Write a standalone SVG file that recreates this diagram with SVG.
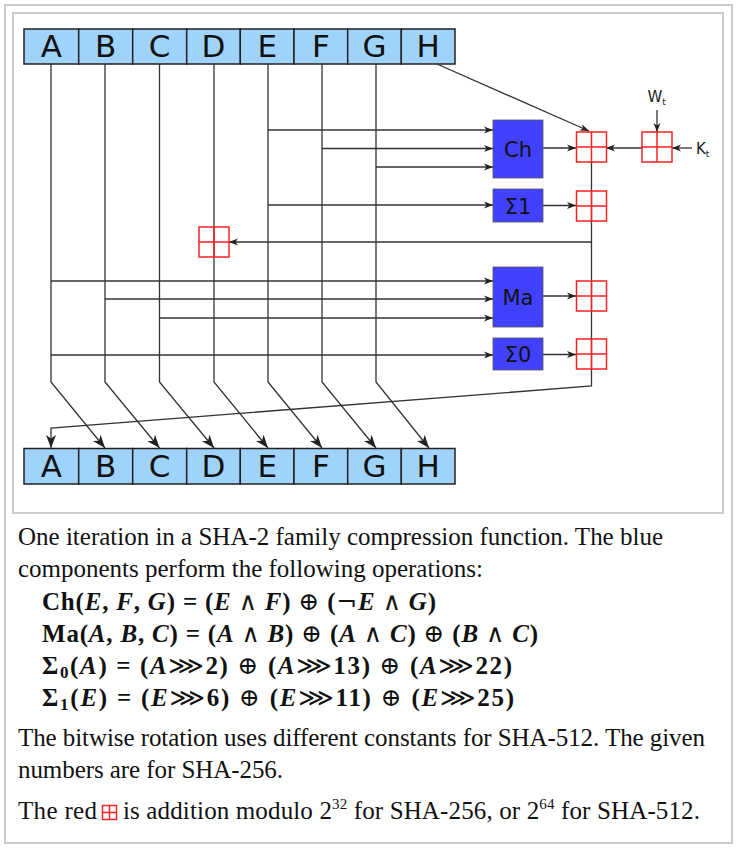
<svg xmlns="http://www.w3.org/2000/svg" width="743" height="856" viewBox="0 0 743 856">
<style>
.frame{fill:#fff;stroke:#c8ccd1;stroke-width:2}
.cell{fill:#a0d3fa;stroke:#222;stroke-width:1.5}
.reg{font-family:"DejaVu Sans",sans-serif;font-size:31px;fill:#111;text-anchor:middle}
.op{fill:#4141ff;stroke:#555;stroke-width:0.8}
.opt{font-family:"DejaVu Sans",sans-serif;font-size:21px;fill:#111;text-anchor:middle}
.add{fill:none;stroke:#ff2020;stroke-width:1.5}
.lbl{font-family:"DejaVu Sans",sans-serif;font-size:15px;fill:#222}
.sub{font-size:9px}
.ln{fill:none;stroke:#333;stroke-width:1.3}
.ar{marker-end:url(#ah)}
.arb{marker-end:url(#ahb)}
.cap{font-family:"Liberation Serif","Times New Roman",serif;font-size:25px;fill:#111}
.math{font-family:"Liberation Serif","DejaVu Serif",serif;font-size:25px;font-weight:bold;fill:#111}
.v{font-style:italic}
.o{font-weight:normal;font-family:"DejaVu Serif","DejaVu Sans",serif}
</style>
<defs>
<marker id="ah" viewBox="-10 -5 10 10" refX="0" refY="0" markerWidth="10" markerHeight="10" markerUnits="userSpaceOnUse" orient="auto"><path d="M0,0 L-9,-3.5 L-6.5,0 L-9,3.5 Z" fill="#222"/></marker>
<marker id="ahb" viewBox="-14 -7 14 14" refX="0" refY="0" markerWidth="14" markerHeight="14" markerUnits="userSpaceOnUse" orient="auto"><path d="M0,0 L-13,-5 L-9.5,0 L-13,5 Z" fill="#222"/></marker>
</defs>
<rect class="frame" x="5" y="5" width="727" height="838"/>
<rect class="frame" x="13" y="13" width="710" height="500"/>

<g id="register-top">
<rect class="cell" x="24" y="29" width="54.7" height="35"/>
<rect class="cell" x="78.7" y="29" width="54" height="35"/>
<rect class="cell" x="132.7" y="29" width="54" height="35"/>
<rect class="cell" x="186.7" y="29" width="53.6" height="35"/>
<rect class="cell" x="240.3" y="29" width="53.7" height="35"/>
<rect class="cell" x="294" y="29" width="53.7" height="35"/>
<rect class="cell" x="347.7" y="29" width="53.6" height="35"/>
<rect class="cell" x="401.3" y="29" width="53.7" height="35"/>
<text class="reg" x="51.3" y="56.5">A</text>
<text class="reg" x="105.7" y="56.5">B</text>
<text class="reg" x="159.7" y="56.5">C</text>
<text class="reg" x="213.5" y="56.5">D</text>
<text class="reg" x="267.2" y="56.5">E</text>
<text class="reg" x="320.8" y="56.5">F</text>
<text class="reg" x="374.5" y="56.5">G</text>
<text class="reg" x="428.2" y="56.5">H</text>
</g>

<g id="register-bottom">
<rect class="cell" x="24" y="448.5" width="54.7" height="35.5"/>
<rect class="cell" x="78.7" y="448.5" width="54" height="35.5"/>
<rect class="cell" x="132.7" y="448.5" width="54" height="35.5"/>
<rect class="cell" x="186.7" y="448.5" width="53.6" height="35.5"/>
<rect class="cell" x="240.3" y="448.5" width="53.7" height="35.5"/>
<rect class="cell" x="294" y="448.5" width="53.7" height="35.5"/>
<rect class="cell" x="347.7" y="448.5" width="53.6" height="35.5"/>
<rect class="cell" x="401.3" y="448.5" width="53.7" height="35.5"/>
<text class="reg" x="51.3" y="477">A</text>
<text class="reg" x="105.7" y="477">B</text>
<text class="reg" x="159.7" y="477">C</text>
<text class="reg" x="213.5" y="477">D</text>
<text class="reg" x="267.2" y="477">E</text>
<text class="reg" x="320.8" y="477">F</text>
<text class="reg" x="374.5" y="477">G</text>
<text class="reg" x="428.2" y="477">H</text>
</g>

<g id="connectors">
<polyline class="ln arb" points="51,64 51,382 105,448"/>
<polyline class="ln arb" points="105,64 105,382 159.5,448"/>
<polyline class="ln arb" points="159.5,64 159.5,382 214,448"/>
<polyline class="ln arb" points="214,64 214,382 268,448"/>
<polyline class="ln arb" points="268,64 268,382 322,448"/>
<polyline class="ln arb" points="322,64 322,382 376,448"/>
<polyline class="ln arb" points="376,64 376,382 429,448"/>
<line class="ln ar" x1="437" y1="64" x2="589" y2="131"/>
<line class="ln ar" x1="268" y1="130" x2="493" y2="130"/>
<line class="ln ar" x1="322" y1="148.5" x2="493" y2="148.5"/>
<line class="ln ar" x1="376" y1="167" x2="493" y2="167"/>
<line class="ln ar" x1="268" y1="205" x2="493" y2="205"/>
<line class="ln ar" x1="51" y1="281" x2="493" y2="281"/>
<line class="ln ar" x1="105" y1="299" x2="493" y2="299"/>
<line class="ln ar" x1="159.5" y1="318" x2="493" y2="318"/>
<line class="ln ar" x1="51" y1="355" x2="493" y2="355"/>
<line class="ln ar" x1="543" y1="148" x2="576" y2="148"/>
<line class="ln ar" x1="543" y1="205.5" x2="576" y2="205.5"/>
<line class="ln ar" x1="543" y1="296" x2="576" y2="296"/>
<line class="ln ar" x1="543" y1="354.5" x2="576" y2="354.5"/>
<line class="ln ar" x1="642" y1="148" x2="606" y2="148"/>
<line class="ln ar" x1="657" y1="110" x2="657" y2="132"/>
<line class="ln ar" x1="692" y1="148" x2="672" y2="148"/>
<line class="ln ar" x1="591.5" y1="242" x2="229" y2="242"/>
<polyline class="ln arb" points="591.5,162 591.5,386 51,428 51,448"/>
</g>

<g id="ch"><rect class="op" x="493" y="120" width="50" height="58"/><text class="opt" x="518" y="156.5">Ch</text></g>
<g id="sigma1"><rect class="op" x="493" y="189" width="50" height="33"/><text class="opt" x="518" y="213.5">Σ1</text></g>
<g id="ma"><rect class="op" x="493" y="267" width="50" height="60"/><text class="opt" x="518" y="305">Ma</text></g>
<g id="sigma0"><rect class="op" x="493" y="338" width="50" height="32"/><text class="opt" x="518" y="362">Σ0</text></g>

<g id="add-main"><rect class="add" x="576.5" y="132" width="30" height="30"/><path class="add" d="M591.5,132V162M576.5,147H606.5"/></g>
<g id="add-wk"><rect class="add" x="642" y="132" width="30" height="30"/><path class="add" d="M657,132V162M642,147H672"/></g>
<g id="add-s1"><rect class="add" x="576.5" y="191" width="30" height="30"/><path class="add" d="M591.5,191V221M576.5,206H606.5"/></g>
<g id="add-d"><rect class="add" x="199" y="227" width="30" height="30"/><path class="add" d="M214,227V257M199,242H229"/></g>
<g id="add-ma"><rect class="add" x="576.5" y="281" width="30" height="30"/><path class="add" d="M591.5,281V311M576.5,296H606.5"/></g>
<g id="add-s0"><rect class="add" x="576.5" y="339" width="30" height="30"/><path class="add" d="M591.5,339V369M576.5,354H606.5"/></g>

<g id="wt"><text class="lbl" x="647.5" y="102">W<tspan class="sub" dy="3">t</tspan></text></g>
<g id="kt"><text class="lbl" x="696" y="154">K<tspan class="sub" dy="3">t</tspan></text></g>

<g id="caption">
<text class="cap" x="18" y="545" textLength="645">One iteration in a SHA-2 family compression function. The blue</text>
<text class="cap" x="18" y="577" textLength="465">components perform the following operations:</text>
<text class="math" x="42" y="610" textLength="394">Ch(<tspan class="v">E</tspan>, <tspan class="v">F</tspan>, <tspan class="v">G</tspan>) = (<tspan class="v">E</tspan> <tspan class="o">∧</tspan> <tspan class="v">F</tspan>) <tspan class="o">⊕</tspan> (<tspan class="o">¬</tspan><tspan class="v">E</tspan> <tspan class="o">∧</tspan> <tspan class="v">G</tspan>)</text>
<text class="math" x="42" y="642" textLength="496">Ma(<tspan class="v">A</tspan>, <tspan class="v">B</tspan>, <tspan class="v">C</tspan>) = (<tspan class="v">A</tspan> <tspan class="o">∧</tspan> <tspan class="v">B</tspan>) <tspan class="o">⊕</tspan> (<tspan class="v">A</tspan> <tspan class="o">∧</tspan> <tspan class="v">C</tspan>) <tspan class="o">⊕</tspan> (<tspan class="v">B</tspan> <tspan class="o">∧</tspan> <tspan class="v">C</tspan>)</text>
<text class="math" x="42" y="674" textLength="470">Σ<tspan font-size="17" dy="4">0</tspan><tspan dy="-4">(</tspan><tspan class="v">A</tspan>) = (<tspan class="v">A</tspan><tspan class="o">⋙</tspan>2) <tspan class="o">⊕</tspan> (<tspan class="v">A</tspan><tspan class="o">⋙</tspan>13) <tspan class="o">⊕</tspan> (<tspan class="v">A</tspan><tspan class="o">⋙</tspan>22)</text>
<text class="math" x="42" y="706" textLength="472">Σ<tspan font-size="17" dy="4">1</tspan><tspan dy="-4">(</tspan><tspan class="v">E</tspan>) = (<tspan class="v">E</tspan><tspan class="o">⋙</tspan>6) <tspan class="o">⊕</tspan> (<tspan class="v">E</tspan><tspan class="o">⋙</tspan>11) <tspan class="o">⊕</tspan> (<tspan class="v">E</tspan><tspan class="o">⋙</tspan>25)</text>
<text class="cap" x="18" y="746" textLength="687">The bitwise rotation uses different constants for SHA-512. The given</text>
<text class="cap" x="18" y="778" textLength="265">numbers are for SHA-256.</text>
<text class="cap" x="18" y="819" textLength="79">The red</text>
<g id="caption-adder"><rect class="add" x="102.5" y="805.5" width="14" height="14"/><path class="add" d="M109.5,805.5V819.5M102.5,812.5H116.5"/></g>
<text class="cap" x="123" y="819" textLength="577">is addition modulo 2<tspan font-size="15" dy="-10">32</tspan><tspan dy="10"> for SHA-256, or 2</tspan><tspan font-size="15" dy="-10">64</tspan><tspan dy="10"> for SHA-512.</tspan></text>
</g>
</svg>
